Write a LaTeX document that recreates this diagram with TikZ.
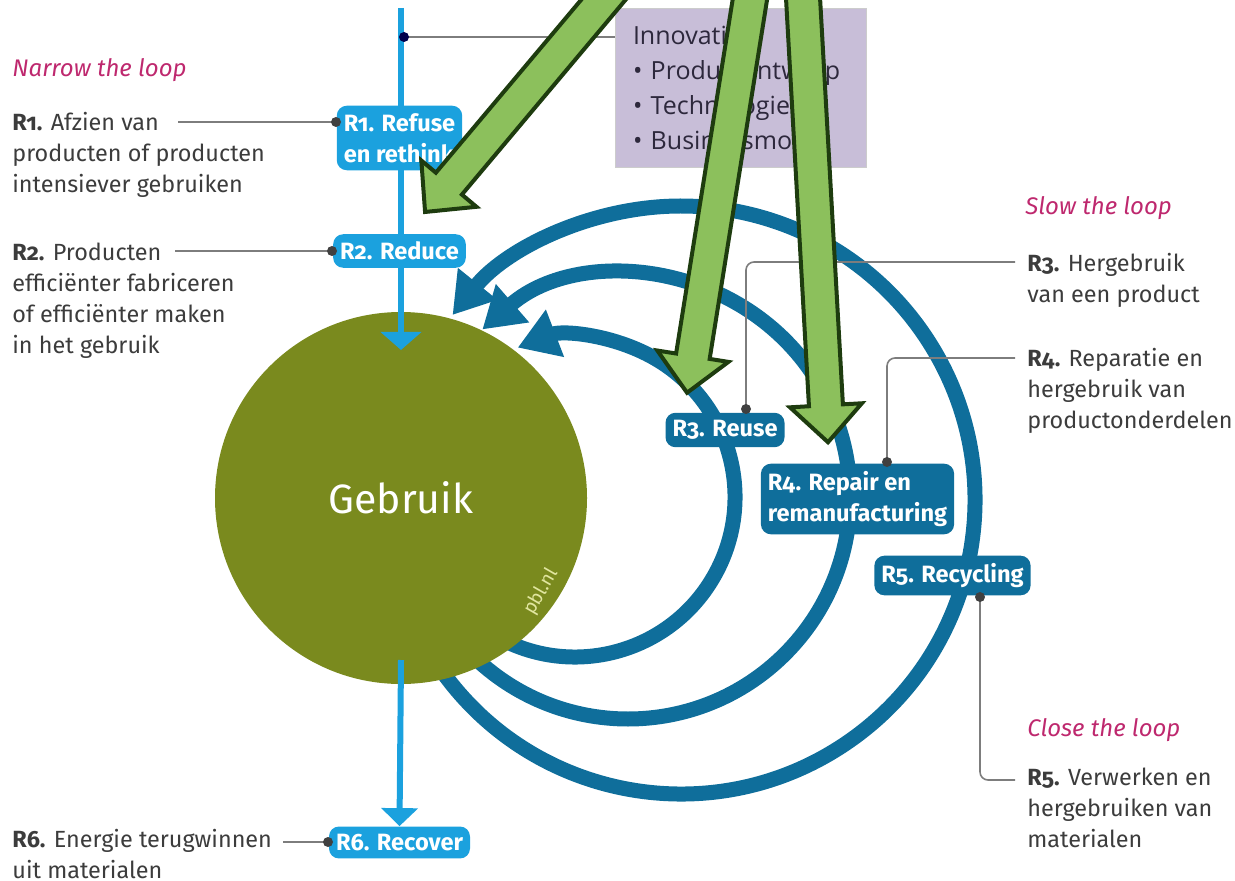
\documentclass[tikz,border=0pt]{standalone}
\usepackage{fontspec}
\setmainfont{Fira Sans}[Numbers=OldStyle]
\newfontfamily\boxfont{Open Sans}
\usetikzlibrary{arrows.meta}

\definecolor{lightblue}{RGB}{27,161,222}
\definecolor{loopblue}{RGB}{15,110,155}
\definecolor{gebruikgreen}{RGB}{122,138,30}
\definecolor{loopred}{RGB}{190,40,110}
\definecolor{lilac}{RGB}{200,190,216}
\definecolor{boxtext}{RGB}{45,40,60}
\definecolor{arrowgreen}{RGB}{140,192,92}
\definecolor{arrowedge}{RGB}{30,60,15}
\definecolor{leadgray}{RGB}{125,125,125}
\definecolor{textgray}{RGB}{60,60,60}
\definecolor{pblyellow}{RGB}{225,230,160}

\tikzset{
  lightbox/.style={fill=lightblue, text=white, rounded corners=5pt, align=left,
    font=\fontsize{11.8}{15.5}\selectfont\bfseries, inner xsep=3.5pt, inner ysep=3.8pt},
  darkbox/.style={lightbox, fill=loopblue},
  flowline/.style={lightblue, line width=3pt},
  looparc/.style={loopblue, line width=7.5pt, -{Triangle[width=24pt,length=20pt]}},
  leader/.style={leadgray, line width=0.8pt, rounded corners=4pt},
  leaddot/.style={circle, fill=black!75, inner sep=0pt, minimum size=5pt},
  desctext/.style={anchor=north west, inner sep=0pt, align=left, text=textgray,
    font=\fontsize{11.7}{15.5}\selectfont},
  looplabel/.style={anchor=north west, inner sep=0pt, text=loopred,
    font=\fontsize{12}{14}\selectfont\itshape},
  innovbox/.style={anchor=north west, fill=lilac, draw=black!20, line width=0.5pt,
    minimum width=125.5pt, minimum height=79.5pt, text width=108pt, inner xsep=8pt,
    align=left, text=boxtext, font=\boxfont\fontsize{12.5}{17.5}\selectfont},
  greenarrow/.style={fill=arrowgreen, draw=arrowedge, line width=2pt, line join=miter},
}

\begin{document}
\begin{tikzpicture}[x=0.5pt, y=-0.5pt]
\useasboundingbox (0,0) rectangle (1235,881);
\clip (0,0) rectangle (1235,881);

% the three loops, behind the circle
\draw[looparc] (575,497) ++(120:160) arc[start angle=120, end angle=-111, radius=160];
\draw[looparc] (628,497) ++(135:222) arc[start angle=135, end angle=-131, radius=222];
\draw[looparc] (681,500) ++(146:294) arc[start angle=146, end angle=-141, radius=294];

\node[circle, fill=gebruikgreen, minimum size=186pt, inner sep=0pt, text=white,
  font=\fontsize{20.5}{24}\selectfont] (gebruik) at (401,498) {Gebruik};
\node[rotate=60, text=pblyellow, font=\fontsize{9.5}{10}\selectfont] (pbl) at (541,592) {pbl.nl};

% main flow
\coordinate (linetop) at (401,8);
\coordinate (inflow) at (401,350);
\coordinate (outflow) at (401,660);
\draw[flowline, -{Triangle[width=20pt,length=9pt]}] (linetop) -- (inflow);

\node[lightbox] (r1) at (399.5,138) {R1. Refuse\\en rethink};
\node[lightbox] (r2) at (399.5,251) {R2. Reduce};
\node[lightbox] (r6) at (399.5,842.5) {R6. Recover};
\draw[flowline, -{Triangle[width=18pt,length=9pt]}] (outflow) -- (r6.north);

\node[darkbox] (r3) at (725,430) {R3. Reuse};
\node[darkbox] (r4) at (857.5,499) {R4. Repair en\\remanufacturing};
\node[darkbox] (r5) at (952.5,575.5) {R5. Recycling};

% innovation box
\node[innovbox] (innov) at (615,8) {Innovatie\\\textbullet\ Productontwerp\\\textbullet\ Technologie\\\textbullet\ Businessmodel};
\coordinate (innovdot) at (404,37);
\draw[leader] (innovdot) -- (innovdot -| innov.west);
\node[leaddot, fill=black!70!blue] at (innovdot) {};

% descriptions
\node[looplabel] (narrow) at (12,58) {Narrow the loop};
\node[looplabel] (slow) at (1025,196) {Slow the loop};
\node[looplabel] (close) at (1027,718) {Close the loop};

\node[desctext] (r1txt) at (12,112) {\textbf{R1.} Afzien van\\producten of producten\\intensiever gebruiken};
\node[desctext] (r2txt) at (12,243) {\textbf{R2.} Producten\\efficiënter fabriceren\\of efficiënter maken\\in het gebruik};
\node[desctext] (r6txt) at (12,829) {\textbf{R6.} Energie terugwinnen\\uit materialen};
\node[desctext] (r3txt) at (1027,253) {\textbf{R3.} Hergebruik\\van een product};
\node[desctext] (r4txt) at (1027,348) {\textbf{R4.} Reparatie en\\hergebruik van\\productonderdelen};
\node[desctext] (r5txt) at (1027,768) {\textbf{R5.} Verwerken en\\hergebruiken van\\materialen};

% leader lines
\coordinate (r1dot) at (336,122);  \coordinate (r1end) at (178,122);
\coordinate (r2dot) at (332,251);  \coordinate (r2end) at (175,251);
\coordinate (r6dot) at (328,842);  \coordinate (r6end) at (283,842);
\coordinate (r3dot) at (746,409);  \coordinate (r3end) at (1015,262);
\coordinate (r4dot) at (887,462);  \coordinate (r4end) at (1015,358);
\coordinate (r5dot) at (980,597);  \coordinate (r5end) at (1015,780);
\draw[leader] (r1dot) -- (r1end);
\draw[leader] (r2dot) -- (r2end);
\draw[leader] (r6dot) -- (r6end);
\draw[leader] (r3dot) |- (r3end);
\draw[leader] (r4dot) |- (r4end);
\draw[leader] (r5dot) |- (r5end);
\foreach \d in {r1dot,r2dot,r6dot,r3dot,r4dot,r5dot}
  \node[leaddot] at (\d) {};

% green arrows on top
\foreach \sx/\sy/\ang/\len in {620/-20/-130.04/303, 753/-20/-99.08/418, 802/-20/-86.78/463}
  \draw[greenarrow, shift={(\sx,\sy)}, rotate=\ang]
    (0,-17) -- (\len-37,-17) -- (\len-37,-36) -- (\len,0) -- (\len-37,36) -- (\len-37,17) -- (0,17) -- cycle;

\end{tikzpicture}
\end{document}
